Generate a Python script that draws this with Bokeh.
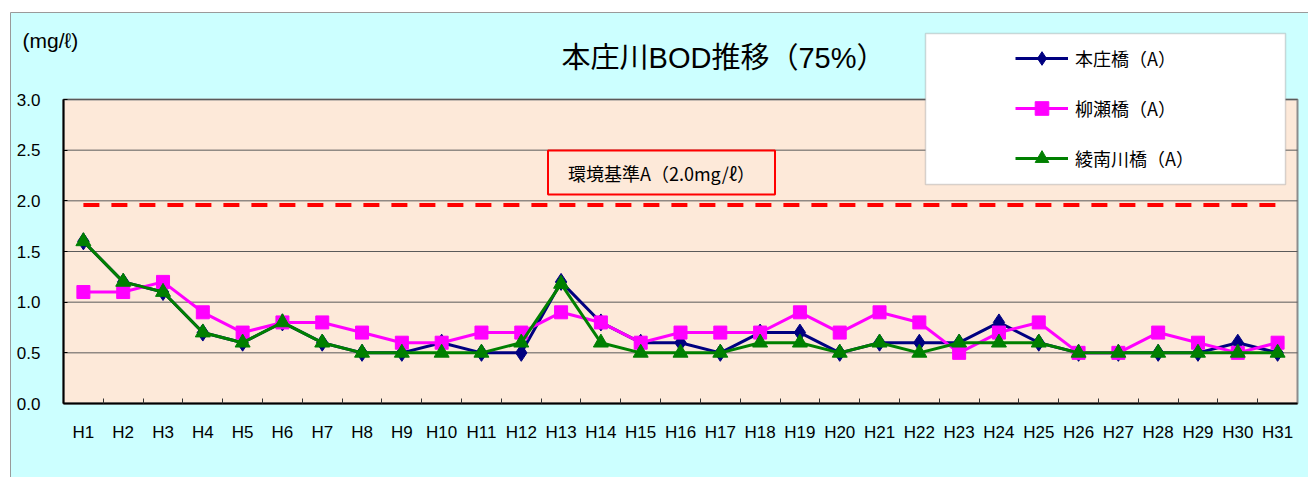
from bokeh.plotting import figure
from bokeh.models import (Range1d, FixedTicker, Legend, LegendItem, Label, BoxAnnotation, LinearAxis)
from bokeh.embed import file_html
from bokeh.resources import INLINE

categories = ["H%d" % i for i in range(1, 32)]
honjo = [1.6, 1.2, 1.1, 0.7, 0.6, 0.8, 0.6, 0.5, 0.5, 0.6, 0.5, 0.5, 1.2, 0.8, 0.6, 0.6,
         0.5, 0.7, 0.7, 0.5, 0.6, 0.6, 0.6, 0.8, 0.6, 0.5, 0.5, 0.5, 0.5, 0.6, 0.5]
yanase = [1.1, 1.1, 1.2, 0.9, 0.7, 0.8, 0.8, 0.7, 0.6, 0.6, 0.7, 0.7, 0.9, 0.8, 0.6, 0.7,
          0.7, 0.7, 0.9, 0.7, 0.9, 0.8, 0.5, 0.7, 0.8, 0.5, 0.5, 0.7, 0.6, 0.5, 0.6]
ryonan = [1.6, 1.2, 1.1, 0.7, 0.6, 0.8, 0.6, 0.5, 0.5, 0.5, 0.5, 0.6, 1.18, 0.6, 0.5, 0.5,
          0.5, 0.6, 0.6, 0.5, 0.6, 0.5, 0.6, 0.6, 0.6, 0.5, 0.5, 0.5, 0.5, 0.5, 0.5]
standard = [1.96] * len(categories)
y_ticks = [0.0, 0.5, 1.0, 1.5, 2.0, 2.5, 3.0]
series_names = ["本庄橋（A）", "柳瀬橋（A）", "綾南川橋（A）"]
title_text = "本庄川BOD推移（75%）"
unit_text = "(mg/ℓ)"
standard_text = "環境基準A（2.0mg/ℓ）"

FONT = "Noto Sans CJK JP"
MIXFONT = "'Liberation Sans', 'Noto Sans CJK JP'"
NUMFONT = "Liberation Sans"
xs = list(range(1, len(categories) + 1))
x_lo, x_hi = 0.5, len(categories) + 0.5
y_lo, y_hi = min(y_ticks), max(y_ticks)

# page-pixel geometry of the plot area (figure placed at page origin)
W, H = 1308, 477
PL, PR, PT, PB = 63, 1297, 99, 403
px_x = (PR - PL) / (x_hi - x_lo)
px_y = (PB - PT) / (y_hi - y_lo)

def dx(page_x):
    return x_lo + (page_x - PL) / px_x

def dy(page_y):
    return y_lo + (PB - page_y) / px_y

p = figure(width=W, height=H, output_backend="svg", toolbar_location=None,
           x_axis_type=None, y_axis_type=None,
           x_range=Range1d(dx(0), dx(W)), y_range=Range1d(dy(H), dy(0)),
           min_border=0, background_fill_color="white", border_fill_color="white")
p.outline_line_color = None
p.xgrid.visible = False
p.ygrid.visible = False

# outer chart area
p.quad(left=dx(10), right=dx(W + 4), top=dy(12), bottom=dy(H + 4),
       fill_color="#CCFFFF", line_color="#9a9a9a", line_width=1)
# plot area
p.quad(left=x_lo, right=x_hi, top=y_hi, bottom=y_lo,
       fill_color="#FDE9D9", line_color="#8c8c8c", line_width=2)
# horizontal gridlines
p.segment(x0=[x_lo] * len(y_ticks), x1=[x_hi] * len(y_ticks), y0=y_ticks, y1=y_ticks,
          line_color="#5a5a5a", line_width=1)

# axes
xaxis = LinearAxis(fixed_location=y_lo, bounds=(x_lo, x_hi),
                   ticker=FixedTicker(ticks=xs, minor_ticks=[x + 0.5 for x in xs[:-1]]))
xaxis.major_label_overrides = {x: c for x, c in zip(xs, categories)}
xaxis.major_tick_line_color = None
xaxis.minor_tick_in = 5
xaxis.minor_tick_out = 0
xaxis.minor_tick_line_color = "#333333"
xaxis.axis_line_color = "black"
xaxis.axis_line_width = 2
xaxis.major_label_standoff = 13
xaxis.major_label_text_font = NUMFONT
xaxis.major_label_text_font_size = "17px"
xaxis.major_label_text_color = "black"
p.add_layout(xaxis, "below")

yaxis = LinearAxis(fixed_location=x_lo, bounds=(y_lo, y_hi), ticker=FixedTicker(ticks=y_ticks))
yaxis.major_label_overrides = {v: "%.1f" % v for v in y_ticks}
yaxis.major_tick_in = 4
yaxis.major_tick_out = 0
yaxis.minor_tick_line_color = None
yaxis.axis_line_color = "black"
yaxis.axis_line_width = 2
yaxis.major_label_standoff = 23
yaxis.major_label_text_font = NUMFONT
yaxis.major_label_text_font_size = "17px"
yaxis.major_label_text_color = "black"
p.add_layout(yaxis, "left")

# standard line
p.line(xs, standard, line_color="#FF0000", line_width=4, line_dash="16 12")

# series
l1 = p.line(xs, honjo, line_color="#000080", line_width=3)
m1 = p.scatter(xs, honjo, marker="diamond", size=17, fill_color="#000080", line_color="#000080")
l2 = p.line(xs, yanase, line_color="#FF00FF", line_width=3)
m2 = p.scatter(xs, yanase, marker="square", size=13, fill_color="#FF00FF", line_color="#FF00FF")
l3 = p.line(xs, ryonan, line_color="#008000", line_width=3)
m3 = p.scatter(xs, ryonan, marker="triangle", size=15, fill_color="#008000", line_color="#008000")

# legend box
box = BoxAnnotation(left=dx(925), right=dx(1285), top=dy(33), bottom=dy(184),
                    fill_color="white", fill_alpha=1.0, line_color="#7f7f7f", line_width=1.5)
p.add_layout(box)

legend = Legend(items=[LegendItem(label=series_names[0], renderers=[l1, m1]),
                       LegendItem(label=series_names[1], renderers=[l2, m2]),
                       LegendItem(label=series_names[2], renderers=[l3, m3])],
                location=(1015, H - 175), orientation="vertical",
                background_fill_alpha=0, border_line_color=None, padding=0, margin=0,
                glyph_width=53, glyph_height=34, label_height=20, spacing=16,
                label_standoff=7, label_text_font=FONT, label_text_font_size="18px",
                label_text_color="black")
p.add_layout(legend)

# texts
p.add_layout(Label(x=dx(723), y=dy(57), text=title_text, text_align="center",
                   text_baseline="middle", text_font=MIXFONT, text_font_size="29px",
                   text_color="black"))
p.add_layout(Label(x=dx(22), y=dy(40), text=unit_text, text_align="left",
                   text_baseline="middle", text_font=NUMFONT, text_font_size="21px",
                   text_color="black"))
p.add_layout(Label(x=dx(661), y=dy(172), text=standard_text, text_align="center",
                   text_baseline="middle", text_font=FONT, text_font_size="18px",
                   text_color="black", border_line_color="#FF0000", border_line_width=2,
                   background_fill_color="#FDE9D9", padding=(20, 9)))

open("out.html", "w").write(file_html(p, INLINE))
